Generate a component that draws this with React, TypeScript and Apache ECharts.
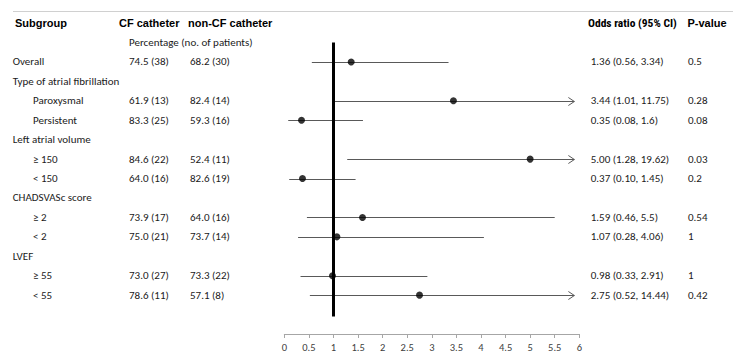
import React, { useEffect, useRef } from "react";
import * as echarts from "echarts";

// ---- data ----
const subgroups = [
  "Overall",
  "Type of atrial fibrillation",
  "Paroxysmal",
  "Persistent",
  "Left atrial volume",
  "≥ 150",
  "< 150",
  "CHADSVASc score",
  "≥ 2",
  "< 2",
  "LVEF",
  "≥ 55",
  "< 55",
];
const indented = [false, false, true, true, false, true, true, false, true, true, false, true, true];
const cfText = ["74.5 (38)", "", "61.9 (13)", "83.3 (25)", "", "84.6 (22)", "64.0 (16)", "", "73.9 (17)", "75.0 (21)", "", "73.0 (27)", "78.6 (11)"];
const nonCfText = ["68.2 (30)", "", "82.4 (14)", "59.3 (16)", "", "52.4 (11)", "82.6 (19)", "", "64.0 (16)", "73.7 (14)", "", "73.3 (22)", "57.1 (8)"];
const oddsRatio: (number | null)[] = [1.36, null, 3.44, 0.35, null, 5.0, 0.37, null, 1.59, 1.07, null, 0.98, 2.75];
const ciLow: (number | null)[] = [0.56, null, 1.01, 0.08, null, 1.28, 0.1, null, 0.46, 0.28, null, 0.33, 0.52];
const ciHigh: (number | null)[] = [3.34, null, 11.75, 1.6, null, 19.62, 1.45, null, 5.5, 4.06, null, 2.91, 14.44];
const orText = ["1.36 (0.56, 3.34)", "", "3.44 (1.01, 11.75)", "0.35 (0.08, 1.6)", "", "5.00 (1.28, 19.62)", "0.37 (0.10, 1.45)", "", "1.59 (0.46, 5.5)", "1.07 (0.28, 4.06)", "", "0.98 (0.33, 2.91)", "2.75 (0.52, 14.44)"];
const pValues = ["0.5", "", "0.28", "0.08", "", "0.03", "0.2", "", "0.54", "1", "", "1", "0.42"];
const headers = ["Subgroup", "CF catheter", "non-CF catheter", "Odds ratio (95% CI)", "P-value"];
const subHeader = "Percentage (no. of patients)";

const xMin = 0;
const xMax = 6;
const xInterval = 0.5;
const nullValue = 1;
const arrowCap = 5.9;
const refLineTop = -1;
const refLineBottom = 13.1;

// ---- layout / styles ----
const BODY_FONT = "Carlito, Lato, sans-serif";
const HEAD_FONT = "'Liberation Sans', Arial, sans-serif";
const HEAD_NARROW_FONT = "'Roboto Condensed', 'Liberation Sans', sans-serif";
const TEXT_COLOR = "#1a1a1a";
const CI_COLOR = "#595959";
const COL = { sub: 12.7, subIndent: 33, cf: 129, noncf: 190, or: 590.7, p: 688 };
const HEAD_COL = [15, 119, 188, 588, 687.5];

export default function App() {
  const ref = useRef<HTMLDivElement>(null);

  useEffect(() => {
    if (!ref.current) return;
    const chart = echarts.init(ref.current, undefined, { renderer: "svg" });

    const rowData = subgroups.map((_, i) => [i]);
    const ciData: number[][] = [];
    const pointData: number[][] = [];
    subgroups.forEach((_, i) => {
      const lo = ciLow[i];
      const hi = ciHigh[i];
      const or = oddsRatio[i];
      if (lo != null && hi != null) ciData.push([i, lo, hi]);
      if (or != null) pointData.push([or, i]);
    });

    const bodyText = (text: string, x: number, y: number) => ({
      type: "text",
      x,
      y,
      style: {
        text,
        fill: TEXT_COLOR,
        fontFamily: BODY_FONT,
        fontSize: 11,
        align: "left",
        verticalAlign: "middle",
      },
    });

    const option: any = {
      animation: false,
      grid: { left: 284.3, right: 153.7, top: 23.1, bottom: 20, containLabel: false },
      xAxis: {
        type: "value",
        min: xMin,
        max: xMax,
        interval: xInterval,
        axisLine: { show: true, onZero: false, lineStyle: { color: "#a6a6a6", width: 1 } },
        axisTick: { show: true, length: 4, lineStyle: { color: "#a6a6a6" } },
        axisLabel: { color: "#404040", fontFamily: BODY_FONT, fontSize: 10.5, margin: 8 },
        splitLine: { show: false },
      },
      yAxis: { type: "value", min: -2, max: 14, inverse: true, show: false },
      graphic: [
        {
          type: "line",
          shape: { x1: 13, y1: 11.5, x2: 733, y2: 11.5 },
          style: { stroke: "#d0d0d0", lineWidth: 1 },
          silent: true,
        },
      ],
      series: [
        {
          type: "custom",
          name: "ci",
          data: ciData,
          encode: { x: [1, 2], y: 0 },
          clip: false,
          z: 2,
          renderItem: (params: any, api: any) => {
            const row = api.value(0);
            const lo = api.value(1);
            const hi = api.value(2);
            const end = Math.min(hi, arrowCap);
            const p1 = api.coord([lo, row]);
            const p2 = api.coord([end, row]);
            const y = Math.round(p1[1]) + 0.5;
            const children: any[] = [
              {
                type: "line",
                shape: { x1: p1[0], y1: y, x2: p2[0], y2: y },
                style: { stroke: CI_COLOR, lineWidth: 1 },
              },
            ];
            if (hi > xMax) {
              children.push({
                type: "polyline",
                shape: { points: [[p2[0] - 6, y - 4], [p2[0], y], [p2[0] - 6, y + 4]] },
                style: { stroke: CI_COLOR, lineWidth: 1, fill: "none" },
              });
            }
            return { type: "group", children };
          },
        },
        {
          type: "line",
          name: "ref",
          data: [],
          markLine: {
            silent: true,
            symbol: "none",
            label: { show: false },
            lineStyle: { color: "#000", width: 3, type: "solid" },
            data: [[{ coord: [nullValue, refLineTop] }, { coord: [nullValue, refLineBottom] }]],
          },
          z: 3,
        },
        {
          type: "scatter",
          name: "or",
          data: pointData,
          symbol: "circle",
          symbolSize: 7,
          itemStyle: { color: "#000" },
          z: 4,
        },
        {
          type: "custom",
          name: "table",
          data: rowData,
          encode: { y: 0 },
          clip: false,
          renderItem: (params: any, api: any) => {
            const i = api.value(0);
            const y = api.coord([0, i])[1];
            const children: any[] = [bodyText(subgroups[i], indented[i] ? COL.subIndent : COL.sub, y)];
            if (cfText[i]) children.push(bodyText(cfText[i], COL.cf, y));
            if (nonCfText[i]) children.push(bodyText(nonCfText[i], COL.noncf, y));
            if (orText[i]) children.push(bodyText(orText[i], COL.or, y));
            if (pValues[i]) children.push(bodyText(pValues[i], COL.p, y));
            return { type: "group", children };
          },
        },
        {
          type: "custom",
          name: "headers",
          data: [[-2], [-1]],
          encode: { y: 0 },
          clip: false,
          renderItem: (params: any, api: any) => {
            const row = api.value(0);
            const y = api.coord([0, row])[1];
            if (row === -1) {
              return bodyText(subHeader, COL.cf, y);
            }
            return {
              type: "group",
              children: headers.map((h, k) => ({
                type: "text",
                x: HEAD_COL[k],
                y,
                style: {
                  text: h,
                  fill: "#000",
                  fontFamily: k === 3 ? HEAD_NARROW_FONT : HEAD_FONT,
                  fontWeight: "bold",
                  fontSize: k === 3 ? 11.5 : 11,
                  verticalAlign: "middle",
                },
              })),
            };
          },
        },
      ],
    };

    chart.setOption(option);
    return () => chart.dispose();
  }, []);

  return (
    <div
      ref={ref}
      style={{ position: "fixed", left: 0, top: 0, width: 733, height: 354, background: "#fff" }}
    />
  );
}
